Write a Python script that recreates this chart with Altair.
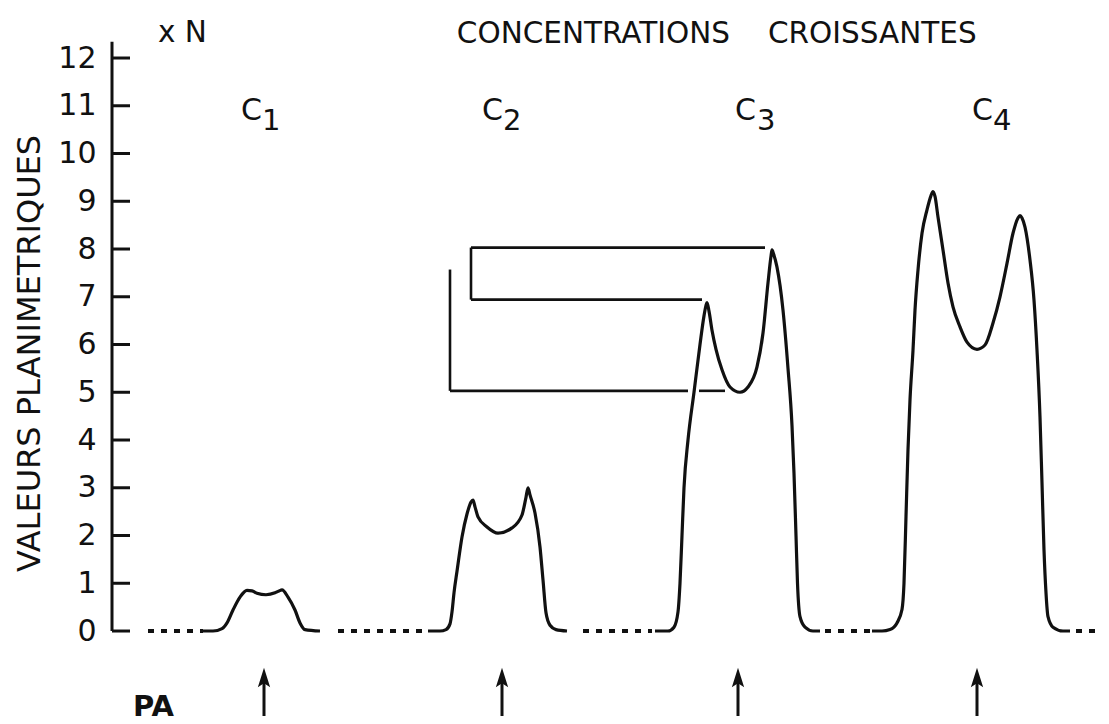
import altair as alt
import pandas as pd

# ---------------- values ----------------
# position along the recording (arbitrary units), planimetric value (x N)
y_ticks = list(range(0, 13))

c1_x = [203, 213, 222, 227, 233, 240, 247, 252, 257, 266, 275, 279, 282, 288, 295, 300, 305, 320]
c1_y = [0, 0, 0.05, 0.17, 0.44, 0.71, 0.85, 0.84, 0.79, 0.76, 0.8, 0.84, 0.86, 0.71, 0.44, 0.17, 0.03, 0]

c2_x = [428, 440, 446, 450, 452, 454, 457, 462, 467, 471, 473, 475, 478, 487, 498, 512, 522, 526, 528, 530, 535, 540, 543, 546, 550, 556, 567]
c2_y = [0, 0, 0.03, 0.15, 0.4, 0.8, 1.25, 1.97, 2.45, 2.7, 2.74, 2.6, 2.39, 2.18, 2.05, 2.16, 2.43, 2.8, 3.0, 2.85, 2.47, 1.76, 1.07, 0.38, 0.12, 0.03, 0]

c3_x = [655, 668, 674, 678, 680, 682, 684, 688, 694, 700, 704, 706, 707, 709, 712, 716, 722, 730, 740, 748, 757, 763, 768, 771, 772, 773.5, 777, 783, 788, 792, 794, 796, 797.5, 800, 805, 813, 820]
c3_y = [0, 0, 0.08, 0.4, 1.0, 2.0, 3.0, 4.0, 5.0, 6.0, 6.6, 6.82, 6.88, 6.7, 6.3, 5.9, 5.47, 5.11, 5.0, 5.11, 5.53, 6.24, 7.29, 7.85, 7.98, 7.9, 7.62, 6.72, 5.5, 4.3, 3.3, 2.0, 1.0, 0.3, 0.08, 0, 0]

c4_x = [872, 882, 890, 897, 902, 904, 906, 908, 910, 913, 915, 918, 922, 927, 931, 933, 935, 938, 943, 948, 953, 960, 967, 977, 985, 993, 1000, 1007, 1013, 1018, 1020, 1022, 1025, 1030, 1034, 1037, 1040, 1042, 1044, 1046, 1048, 1053, 1063, 1070]
c4_y = [0, 0, 0.03, 0.17, 0.45, 1.0, 2.4, 3.8, 4.84, 5.88, 6.72, 7.56, 8.33, 8.82, 9.12, 9.2, 9.1, 8.67, 7.98, 7.29, 6.79, 6.37, 6.05, 5.9, 5.99, 6.45, 7.0, 7.7, 8.33, 8.65, 8.7, 8.65, 8.46, 7.77, 6.93, 5.88, 4.48, 3.1, 1.7, 0.8, 0.3, 0.08, 0, 0]

# dotted baseline between recordings
dash_start = [148, 338, 583, 825, 1076]
dash_end = [203, 428, 652, 870, 1100]

# bracket lines (start, end)
br_x1 = [471, 471, 471, 450, 450, 699]
br_x2 = [765, 471, 702, 450, 688, 725]
br_y1 = [8.03, 6.94, 6.94, 5.03, 5.03, 5.03]
br_y2 = [8.03, 8.03, 6.94, 7.57, 5.03, 5.03]

# arrows marking PA
arrow_x = [264, 502, 738, 977]

# curve labels
c_labels = ["C", "C", "C", "C"]
c_subs = ["1", "2", "3", "4"]
c_label_x = [241, 482, 735, 972]
c_sub_x = [262, 503, 757, 993]

# ---------------- tables ----------------
rows = []
for name, xs_, ys_ in [("C1", c1_x, c1_y), ("C2", c2_x, c2_y), ("C3", c3_x, c3_y), ("C4", c4_x, c4_y)]:
    for a, b in zip(xs_, ys_):
        rows.append({"trace": name, "x": a, "y": b})
peaks = pd.DataFrame(rows)

dashes = pd.DataFrame({"x": dash_start, "x2": dash_end, "y": [0] * len(dash_start)})
brackets = pd.DataFrame({"x": br_x1, "x2": br_x2, "y": br_y1, "y2": br_y2})
axis_line = pd.DataFrame({"x": [112], "y": [0], "y2": [12.34]})
ticks_df = pd.DataFrame({"x": [112] * len(y_ticks), "x2": [130] * len(y_ticks), "y": y_ticks})
shafts = pd.DataFrame({"x": arrow_x, "y": [-0.95] * 4, "y2": [-1.78] * 4})
heads = pd.DataFrame({"x": arrow_x, "y": [-0.985] * 4})
lab_c = pd.DataFrame({"x": c_label_x, "y": [10.70] * 4, "t": c_labels})
lab_s = pd.DataFrame({"x": c_sub_x, "y": [10.49] * 4, "t": c_subs})
texts_left = pd.DataFrame({"x": [158, 768], "y": [12.34, 12.31], "t": ["x N", "CROISSANTES"]})
texts_right = pd.DataFrame({"x": [730], "y": [12.31], "t": ["CONCENTRATIONS"]})
pa = pd.DataFrame({"x": [133], "y": [-1.77], "t": ["PA"]})

# ---------------- chart ----------------
FONT = "DejaVu Sans"
INK = "#111111"
xs = alt.Scale(domain=[112, 1100], nice=False, zero=False)
ys = alt.Scale(domain=[-1.696, 12.796], nice=False, zero=False)
yaxis = alt.Axis(values=y_ticks, domain=False, ticks=False, grid=False,
                 labelFont=FONT, labelFontSize=30, labelColor=INK, labelPadding=16,
                 title="VALEURS    PLANIMETRIQUES", titleFont=FONT, titleFontSize=32,
                 titleFontWeight="normal", titleColor=INK, titleAngle=270,
                 titleX=-73, titleY=333, titleAlign="center", titleBaseline="alphabetic")


def X(f="x"):
    return alt.X(f"{f}:Q", scale=xs, axis=None)


def Y(f="y"):
    return alt.Y(f"{f}:Q", scale=ys, axis=yaxis)


lines = alt.Chart(peaks).mark_line(interpolate="monotone", strokeWidth=3.2, color=INK).encode(
    x=X(), y=Y(), detail="trace:N")
dash_layer = alt.Chart(dashes).mark_rule(strokeDash=[6, 7], strokeWidth=4, color=INK).encode(
    x=X(), x2="x2:Q", y=Y())
bracket_layer = alt.Chart(brackets).mark_rule(strokeWidth=2.6, color=INK).encode(
    x=X(), x2="x2:Q", y=Y(), y2="y2:Q")
axis_layer = alt.Chart(axis_line).mark_rule(strokeWidth=3, color=INK).encode(
    x=X(), y=Y(), y2="y2:Q")
tick_layer = alt.Chart(ticks_df).mark_rule(strokeWidth=3, color=INK).encode(
    x=X(), x2="x2:Q", y=Y())
shaft_layer = alt.Chart(shafts).mark_rule(strokeWidth=3, color=INK).encode(
    x=X(), y=Y(), y2="y2:Q")
head_layer = alt.Chart(heads).mark_point(
    shape="M0,-1L0.6,0.9L0,0.5L-0.6,0.9Z", size=420, filled=True, opacity=1, color=INK).encode(
    x=X(), y=Y())
c_layer = alt.Chart(lab_c).mark_text(font=FONT, fontSize=30, align="left", baseline="alphabetic", color=INK).encode(
    x=X(), y=Y(), text="t:N")
s_layer = alt.Chart(lab_s).mark_text(font=FONT, fontSize=29, align="left", baseline="alphabetic", color=INK).encode(
    x=X(), y=Y(), text="t:N")
tl_layer = alt.Chart(texts_left).mark_text(font=FONT, fontSize=29.5, align="left", baseline="alphabetic", color=INK).encode(
    x=X(), y=Y(), text="t:N")
tr_layer = alt.Chart(texts_right).mark_text(font=FONT, fontSize=29.5, align="right", baseline="alphabetic", color=INK).encode(
    x=X(), y=Y(), text="t:N")
pa_layer = alt.Chart(pa).mark_text(font=FONT, fontSize=29, fontWeight="bold", align="left", baseline="alphabetic", color=INK).encode(
    x=X(), y=Y(), text="t:N")

chart = alt.layer(
    lines, dash_layer, bracket_layer, axis_layer, tick_layer, shaft_layer, head_layer,
    c_layer, s_layer, tl_layer, tr_layer, pa_layer
).properties(
    width=988, height=692,
    autosize=alt.AutoSizeParams(type="none"),
    padding={"left": 104, "top": 12, "right": 1, "bottom": 12},
    background="white",
).configure_view(stroke=None)

chart.save("out.html", embed_options={"renderer": "svg", "actions": False})
